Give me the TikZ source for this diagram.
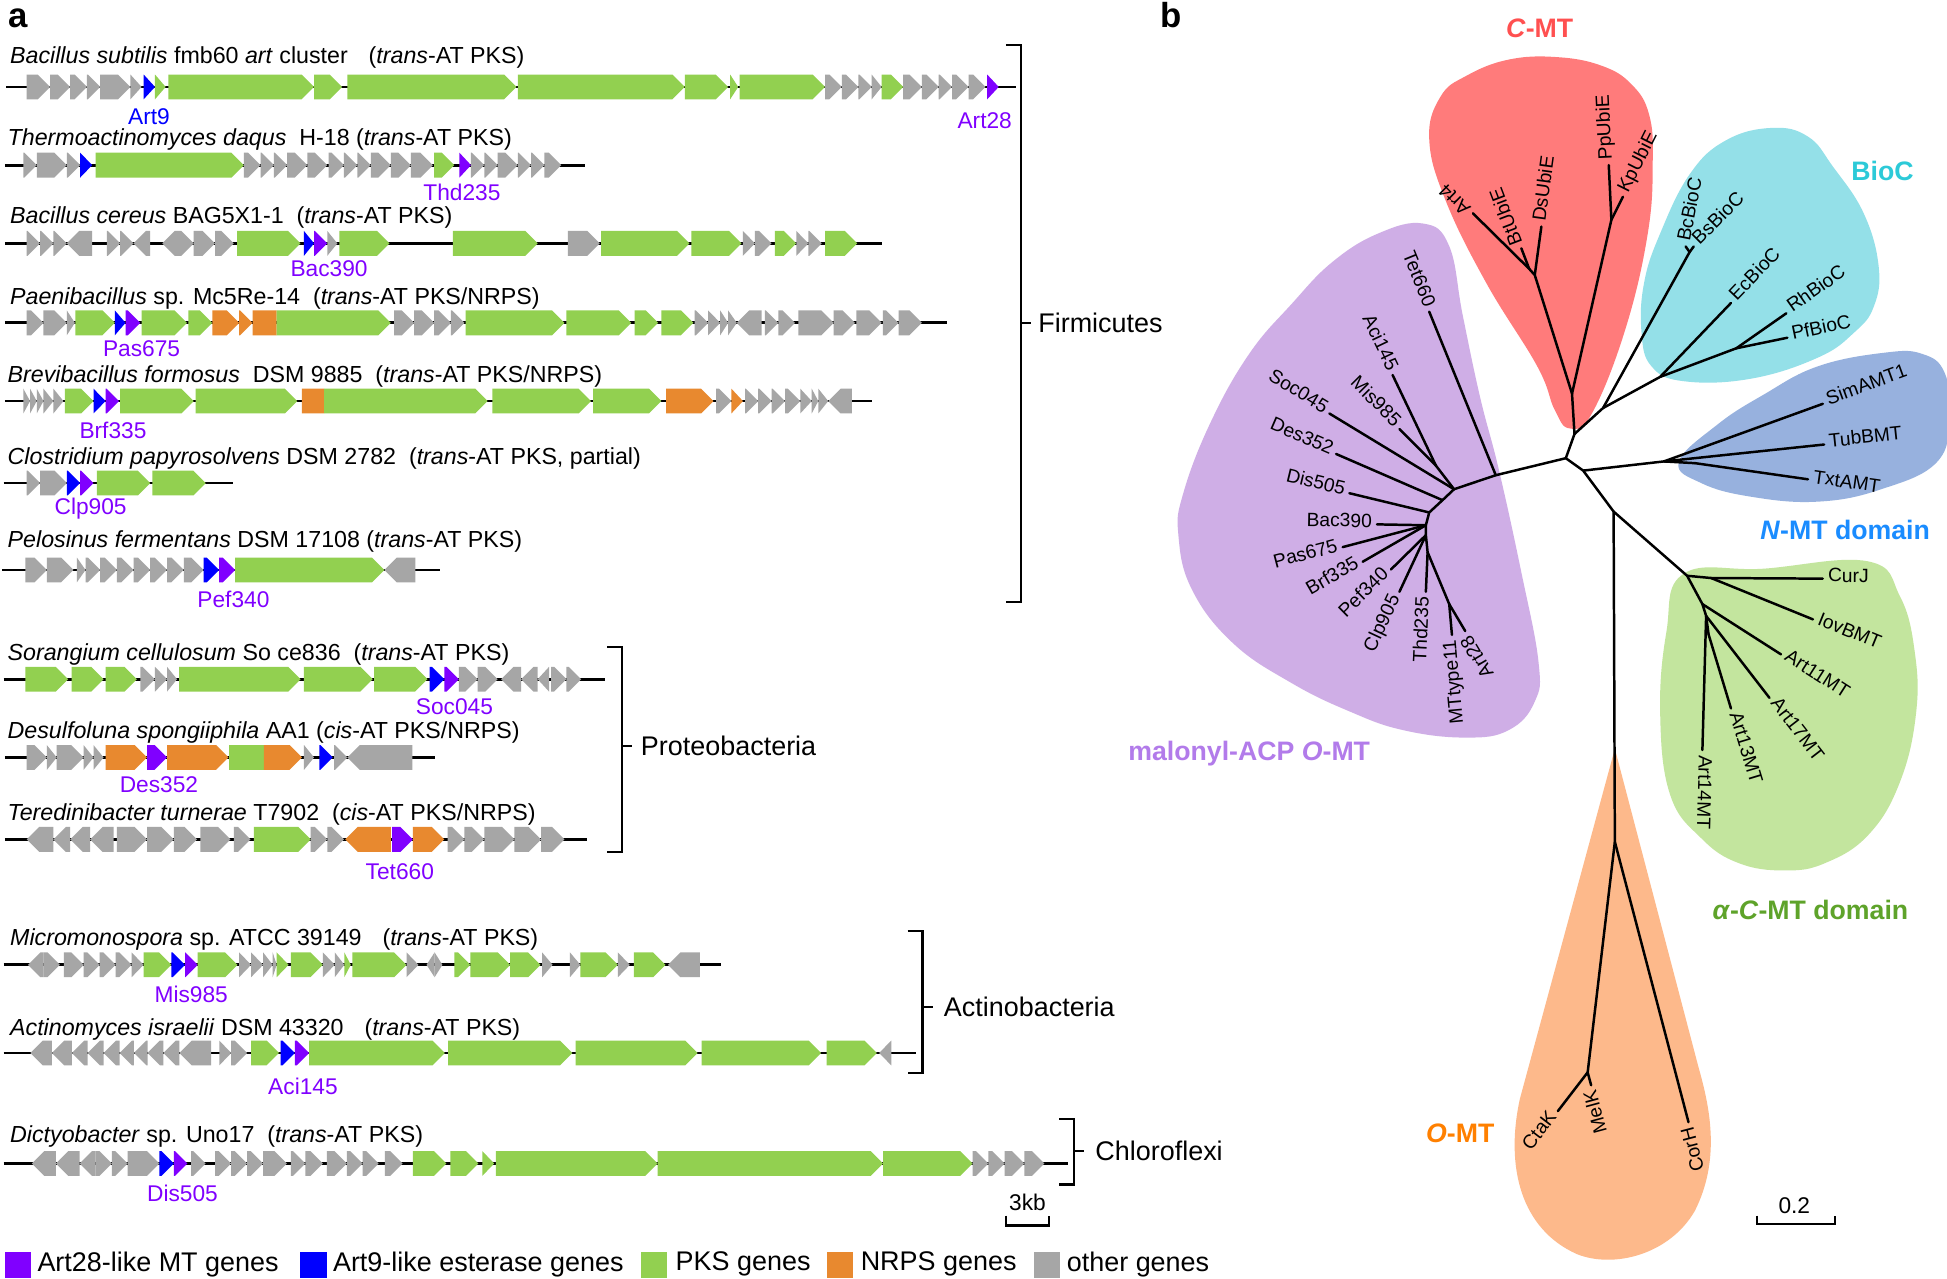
\documentclass[tikz,border=0pt]{standalone}
\usepackage{fontspec}
\setmainfont{Liberation Sans}
\usetikzlibrary{calc}
\definecolor{gGr}{HTML}{A6A6A6}
\definecolor{gPk}{HTML}{92D050}
\definecolor{gNr}{HTML}{E8892F}
\definecolor{gMt}{HTML}{8000FF}
\definecolor{gEs}{HTML}{0000FF}
\definecolor{fillC}{HTML}{FF7B7B}\definecolor{labC}{HTML}{FF5050}
\definecolor{fillB}{HTML}{94E0E8}\definecolor{labB}{HTML}{2CCAD8}
\definecolor{fillN}{HTML}{97B1DE}\definecolor{labN}{HTML}{1A8CFF}
\definecolor{fillA}{HTML}{C3E59E}\definecolor{labA}{HTML}{5EA32A}
\definecolor{fillO}{HTML}{FDB98B}\definecolor{labO}{HTML}{FF8000}
\definecolor{fillM}{HTML}{CFAEE6}\definecolor{labM}{HTML}{B27BEA}
\newcommand\genH{10}
\newcommand\genHd{10}
\newcommand\gene[5]{%
  \pgfmathsetmacro\gA{ifthenelse(#3==-1,#2,#1)}%
  \pgfmathsetmacro\gB{ifthenelse(#3==-1,#1,#2)}%
  \pgfmathsetmacro\gK{\gB-(#3)*min(\genHd,#2-#1)}%
  \fill[fill=#4] (\gA,#5-\genH) -- (\gK,#5-\genH) -- (\gB,#5) -- (\gK,#5+\genH) -- (\gA,#5+\genH) -- cycle;}
\newcommand\generow[4]{%
  \draw[gline] (#2,#1) -- (#3,#1);
  \foreach \ga/\gb/\gd/\gc in {#4} {\gene{\ga}{\gb}{\gd}{\gc}{#1}}}
\newcommand\lfw[3]{\draw[br] (#1) -- (#2);
  \path let \p1=($(#2)-(#1)$), \n1={atan2(\y1,\x1)} in node[tl, anchor=mid west, rotate=\n1] (L#2) at (#2) {#3};}
\newcommand\lfe[3]{\draw[br] (#1) -- (#2);
  \path let \p1=($(#2)-(#1)$), \n1={atan2(\y1,\x1)+180} in node[tl, anchor=mid east, rotate=\n1] (L#2) at (#2) {#3};}
\newcommand\lfm[4]{\draw[br] (#1) -- (#2);
  \node[tl, anchor=mid west, rotate=#4] (L#2) at (#2) {#3};}
\begin{document}
\begin{tikzpicture}[x=1pt,y=-1pt,
  gline/.style={line width=2.2pt},
  br/.style={line width=2pt, line cap=round, line join=round},
  tl/.style={font=\fontsize{15.5}{17}\selectfont, inner xsep=4pt, inner ysep=0pt},
  ttl/.style={font=\fontsize{18.7}{21}\selectfont, inner sep=0pt, anchor=west},
  glab/.style={font=\fontsize{18.3}{21}\selectfont, inner sep=0pt},
  phy/.style={font=\fontsize{21.7}{24}\selectfont, inner sep=0pt, anchor=west},
  brk/.style={line width=1.8pt},
  clab/.style={font=\bfseries\fontsize{21.5}{24}\selectfont, inner sep=0pt},
  leg/.style={font=\fontsize{21.7}{24}\selectfont, inner sep=0pt, anchor=west},
  panel/.style={font=\bfseries\fontsize{28}{30}\selectfont, inner sep=0pt, anchor=base west}]
\useasboundingbox (0,0) rectangle (1568,1030);
\fill[white] (0,0) rectangle (1568,1030);
\node[panel] (pa) at (7,22) {a};
\node[panel] (pb) at (934,22) {b};

% ---------- panel a ----------
\node[ttl] (t1) at (8,46) {\textit{Bacillus subtilis} fmb60 \textit{art} cluster\hspace{0.9em}(\textit{trans}-AT PKS)};
\generow{70}{5}{818}{21.5/40.4/1/gGr, 40.4/56.5/1/gGr, 56.5/70/1/gGr, 70/80.7/1/gGr, 80.7/105/1/gGr, 105/114/1/gGr, 115.7/124.8/1/gEs, 124.8/133.4/1/gPk, 135.6/252.9/1/gPk, 252.9/275.5/1/gPk, 279.8/415.9/1/gPk, 417/551.5/1/gPk, 551.5/586.4/1/gPk, 588/594.5/1/gPk, 595.6/664.4/1/gPk, 664.4/677.9/1/gGr, 677.9/691.3/1/gGr, 691.3/702/1/gGr, 702/710/1/gGr, 710/727.4/1/gPk, 727.4/742.4/1/gGr, 742.4/756/1/gGr, 756/766.7/1/gGr, 766.7/780/1/gGr, 780/793.6/1/gGr, 795/804.3/1/gMt}
\node[glab, gEs] (g1a) at (120,94) {Art9};
\node[glab, gMt] (g1b) at (793,97) {Art28};

\node[ttl] (t2) at (6,112) {\textit{Thermoactinomyces daqus}\ \ H-18 (\textit{trans}-AT PKS)};
\generow{133}{4}{471}{18.8/29.6/1/gGr, 29.6/53.8/1/gGr, 53.8/64.6/1/gGr, 64.6/74.2/1/gEs, 77/196.4/1/gPk, 196.4/209.8/1/gGr, 209.8/220.6/1/gGr, 220.6/231.3/1/gGr, 231.3/247.5/1/gGr, 247.5/263.6/1/gGr, 264.7/277/1/gGr, 277/287.8/1/gGr, 287.8/298.6/1/gGr, 298.6/314.7/1/gGr, 314.7/330.9/1/gGr, 330.9/348.6/1/gGr, 349.7/365.8/1/gPk, 370/379.3/1/gMt, 379.3/390/1/gGr, 390/400.8/1/gGr, 400.8/417/1/gGr, 417/427.7/1/gGr, 427.7/438.5/1/gGr, 438.5/452/1/gGr}
\node[glab, gMt] (g2) at (372,155) {Thd235};

\node[ttl] (t3) at (8,175) {\textit{Bacillus cereus} BAG5X1-1\ \ (\textit{trans}-AT PKS)};
\generow{196}{4}{710}{21.5/32.3/1/gGr, 32.3/43/1/gGr, 43/53.8/1/gGr, 53.8/74.2/-1/gGr, 86/96.8/1/gGr, 96.8/107.6/1/gGr, 107.6/121/-1/gGr, 130.7/142.6/-1/gGr, 142.6/156/1/gGr, 156/173.2/1/gGr, 173.2/188.3/1/gGr, 191/242/1/gPk, 244.8/252.9/1/gEs, 252.9/263.6/1/gMt, 263.6/271.7/1/gGr, 273.3/313.7/1/gPk, 364.8/433/1/gPk, 457.3/483/1/gGr, 484.2/555.2/1/gPk, 556.8/597.2/1/gPk, 598.3/608/1/gGr, 608/621.4/1/gGr, 624/641.3/1/gPk, 641.3/651/1/gGr, 651/661.7/1/gGr, 664.4/690.3/1/gPk}
\node[glab, gMt] (g3) at (265,216) {Bac390};

\node[ttl] (t4) at (8,240) {\textit{Paenibacillus} sp. Mc5Re-14\ \ (\textit{trans}-AT PKS/NRPS)};
\generow{260}{4}{763}{21.5/35/1/gGr, 35/53.8/1/gGr, 53.8/60.3/1/gGr, 60.8/92.5/1/gPk, 92.5/101.1/1/gEs, 101.1/113/1/gMt, 114/150.6/1/gPk, 151.7/171/1/gPk, 171/192.6/1/gNr, 192.6/203.4/1/gNr, 203.4/222.7/0/gNr, 222.7/314.7/1/gPk, 317.4/333.6/1/gGr, 333.6/349.7/1/gGr, 349.7/363.2/1/gGr, 363.2/374/1/gGr, 375/454.6/1/gPk, 456.2/508.4/1/gPk, 511/530/1/gPk, 532.6/558.4/1/gPk, 559.5/570.3/1/gGr, 570.3/580/1/gGr, 580/586.4/1/gGr, 586.4/593.4/1/gGr, 593.4/613.3/-1/gGr, 616/626.8/1/gGr, 626.8/640.2/1/gGr, 643/671.4/1/gGr, 671.4/688.6/1/gGr, 689.7/710/1/gGr, 711/723.6/1/gGr, 723.6/742.4/1/gGr}
\node[glab, gMt] (g4) at (114,281) {Pas675};

\node[ttl] (t5) at (6,303) {\textit{Brevibacillus formosus}\ \ DSM 9885\ \ (\textit{trans}-AT PKS/NRPS)};
\generow{323}{4}{702}{18.8/24.2/1/gGr, 24.2/29.6/1/gGr, 29.6/35/1/gGr, 35/43/1/gGr, 43/51.1/1/gGr, 52.2/75.3/1/gPk, 75.3/85/1/gEs, 85/95.8/1/gMt, 96.8/156/1/gPk, 157.6/239.4/1/gPk, 243.2/261/0/gNr, 261/392.7/1/gPk, 396.5/476/1/gPk, 477.7/532.6/1/gPk, 536.4/574.6/1/gNr, 576.7/589/1/gGr, 589/598.3/1/gNr, 600/610.6/1/gGr, 610.6/621.4/1/gGr, 621.4/632.2/1/gGr, 632.2/644.5/1/gGr, 644.5/653.7/1/gGr, 653.7/659/1/gGr, 659/667/1/gGr, 667/686/-1/gGr}
\node[glab, gMt] (g5) at (91,347) {Brf335};

\node[ttl] (t6) at (6,369) {\textit{Clostridium papyrosolvens} DSM 2782\ \ (\textit{trans}-AT PKS, partial)};
\generow{389}{3}{188}{21.5/32.3/1/gGr, 32.3/53.8/1/gGr, 53.8/64.6/1/gEs, 64.6/75.3/1/gMt, 78/121/1/gPk, 122.7/165.7/1/gPk}
\node[glab, gMt] (g6) at (73,410) {Clp905};

\node[ttl] (t7) at (6,436) {\textit{Pelosinus fermentans} DSM 17108 (\textit{trans}-AT PKS)};
\generow{459}{2}{354}{20.4/37.7/1/gGr, 37.7/59.2/1/gGr, 61.9/68.9/1/gGr, 68.9/80.7/1/gGr, 80.7/94.2/1/gGr, 94.2/107.6/1/gGr, 107.6/121/1/gGr, 121/134.5/1/gGr, 134.5/148/1/gGr, 148/164/1/gGr, 164/176.5/1/gEs, 176.5/189.4/1/gMt, 189.4/309.5/1/gPk, 309.5/334.6/-1/gGr}
\node[glab, gMt] (g7) at (188,483) {Pef340};

\node[ttl] (t8) at (6,527) {\textit{Sorangium cellulosum} So ce836\ \ (\textit{trans}-AT PKS)};
\generow{547}{3}{487}{20.4/54.9/1/gPk, 57.6/83.4/1/gPk, 85/110.3/1/gPk, 113/124.8/1/gGr, 124.8/134.5/1/gGr, 134.5/142.6/1/gGr, 144.2/242.1/1/gPk, 244.8/300.2/1/gPk, 301.3/344.3/1/gPk, 346/357.8/1/gEs, 357.8/369.6/1/gMt, 369.6/384.7/1/gGr, 384.7/400.8/1/gGr, 403.5/419.6/-1/gGr, 419.6/433/-1/gGr, 433/442.2/-1/gGr, 443.9/456.2/1/gGr, 456.2/468/1/gGr}
\node[glab, gMt] (g8) at (366,569) {Soc045};

\node[ttl] (t9) at (6,590) {\textit{Desulfoluna spongiiphila} AA1 (\textit{cis}-AT PKS/NRPS)};
\generow{610}{4}{350}{21.5/37.7/1/gGr, 37.7/45.7/1/gGr, 45.7/67.3/1/gGr, 67.3/75.3/1/gGr, 75.3/83.4/1/gGr, 85/118.4/1/gNr, 118.4/134.5/1/gMt, 134.5/184/1/gNr, 184.5/212.5/0/gPk, 212.5/243.2/1/gNr, 244.8/252.9/1/gGr, 257.2/268/1/gEs, 269/279.8/1/gGr, 279.8/332/-1/gGr}
\node[glab, gMt] (g9) at (128,632) {Des352};

\node[ttl] (t10) at (6,656) {\textit{Teredinibacter turnerae} T7902\ \ (\textit{cis}-AT PKS/NRPS)};
\generow{676}{4}{473}{21.5/43/-1/gGr, 43/56.5/-1/gGr, 56.5/72.6/-1/gGr, 72.6/91.5/-1/gGr, 94.2/118.4/1/gGr, 118.4/140/1/gGr, 140/158.7/1/gGr, 161.4/185.6/1/gGr, 188.3/201.8/1/gGr, 204.4/250.2/1/gPk, 250.2/263.6/1/gGr, 263.6/277/1/gGr, 278/314.7/-1/gNr, 315.8/332.5/1/gMt, 332.5/357.8/1/gNr, 360.5/374/1/gGr, 374/390/1/gGr, 390/414.3/1/gGr, 414.3/435.8/1/gGr, 435.8/454.6/1/gGr}
\node[glab, gMt] (g10) at (322,702) {Tet660};

\node[ttl] (t11) at (8,757) {\textit{Micromonospora} sp. ATCC 39149\hspace{0.9em}(\textit{trans}-AT PKS)};
\generow{777}{3}{581}{22.5/35/-1/gGr, 35/48.2/1/gGr, 51.4/67.4/1/gGr, 67.4/80.3/1/gGr, 80.3/93.1/1/gGr, 93.1/106/1/gGr, 106/115.6/1/gGr, 115.6/138/1/gPk, 138/149/1/gEs, 149/159.2/1/gMt, 159.2/191.3/1/gPk, 192.6/202.2/1/gGr, 202.2/211.9/1/gGr, 211.9/219.6/1/gGr, 219.6/222.8/1/gGr, 222.8/232.4/1/gPk, 234.3/260/1/gPk, 260/269.6/1/gGr, 269.6/277.3/1/gGr, 277.3/282.5/1/gPk, 283.8/327.4/1/gPk, 327.4/337/1/gGr, 343.5/350/-1/gGr, 350/356.3/1/gGr, 366/378.8/1/gPk, 378.8/410.9/1/gPk, 410.9/435.3/1/gPk, 436.6/445/1/gGr, 459/467.4/1/gGr, 467.4/497.6/1/gPk, 497.6/507.2/1/gGr, 510.4/536/1/gPk, 538/563.7/-1/gGr}
\node[glab, gMt] (g11) at (154,801) {Mis985};

\node[ttl] (t12) at (8,829) {\textit{Actinomyces israelii} DSM 43320\hspace{0.9em}(\textit{trans}-AT PKS)};
\generow{848}{3}{738}{24.4/41.7/-1/gGr, 41.7/57.8/-1/gGr, 57.8/70.6/-1/gGr, 70.6/83.5/-1/gGr, 83.5/96.3/-1/gGr, 96.3/107.9/-1/gGr, 107.9/118.8/-1/gGr, 118.8/131.6/-1/gGr, 131.6/144.5/-1/gGr, 144.5/170/-1/gGr, 176.6/186.2/1/gGr, 186.2/199/1/gGr, 202.2/224.7/1/gPk, 226/237.5/1/gEs, 237.5/249/1/gMt, 249/358.2/1/gPk, 360.8/461/1/gPk, 463.5/561.8/1/gPk, 565/661.3/1/gPk, 665.8/706.2/1/gPk, 708/717.8/-1/gGr}
\node[glab, gMt] (g12) at (244,875) {Aci145};

\node[ttl] (t13) at (8,915) {\textit{Dictyobacter} sp. Uno17\ \ (\textit{trans}-AT PKS)};
\generow{937}{3}{860}{25.7/45/-1/gGr, 45/64.2/-1/gGr, 64.2/77/-1/gGr, 77/90/1/gGr, 90/102.7/1/gGr, 102.7/128.4/1/gGr, 128.4/140/1/gEs, 140/150.9/1/gMt, 154/165.6/1/gGr, 173.3/186.2/1/gGr, 186.2/199/1/gGr, 199/211.9/1/gGr, 211.9/231/1/gGr, 234.3/245.9/1/gGr, 245.9/260/1/gGr, 263.2/279.3/1/gGr, 279.3/292/1/gGr, 292/305/1/gGr, 310/324.2/1/gGr, 332.6/359.5/1/gPk, 362.7/385.2/1/gPk, 388.4/398/1/gPk, 399.3/529.6/1/gPk, 529.6/711.3/1/gPk, 711.3/783.2/1/gPk, 783.2/796/1/gGr, 796/809/1/gGr, 809/825/1/gGr, 825/841/1/gGr}
\node[glab, gMt] (g13) at (147,961) {Dis505};

% brackets
\draw[brk] (810,36) -- (822,36) -- (822,485) -- (810,485);
\draw[brk] (822,260) -- (830,260);
\node[phy] (firm) at (836,260) {Firmicutes};
\draw[brk] (489,521) -- (501,521) -- (501,686) -- (489,686);
\draw[brk] (501,601) -- (509,601);
\node[phy] (prot) at (516,601) {Proteobacteria};
\draw[brk] (731,750) -- (743,750) -- (743,864) -- (731,864);
\draw[brk] (743,811) -- (751,811);
\node[phy] (acti) at (760,811) {Actinobacteria};
\draw[brk] (853,901) -- (865,901) -- (865,954) -- (853,954);
\draw[brk] (865,927) -- (873,927);
\node[phy] (chlo) at (882,927) {Chloroflexi};
% 3kb bar
\draw[brk] (810,979) -- (810,987) -- (845,987) -- (845,979);
\node[glab] (kb) at (827.5,968) {3kb};
% legend
\fill[gMt] (4,1008) rectangle (25,1029);
\node[leg] (l1) at (30,1018) {Art28-like MT genes};
\fill[gEs] (242,1008) rectangle (263,1029);
\node[leg] (l2) at (268,1018) {Art9-like esterase genes};
\fill[gPk] (516,1008) rectangle (537,1029);
\node[leg] (l3) at (544,1018) {PKS genes};
\fill[gNr] (666,1008) rectangle (687,1029);
\node[leg] (l4) at (693,1018) {NRPS genes};
\fill[gGr] (833,1008) rectangle (854,1029);
\node[leg] (l5) at (859,1018) {other genes};

% ---------- panel b: clade shading ----------
\fill[fillM] plot[smooth cycle, tension=0.7] coordinates {(1146,180) (1167,198) (1178,254) (1192,320) (1207,378) (1225,460) (1239,533) (1236,565) (1215,588) (1180,594) (1130,588) (1087,573) (1040,550) (993,518) (960,475) (949,431) (953,397) (975,340) (1006,285) (1040,245) (1073,211) (1110,188)};
\fill[fillC] plot[smooth cycle, tension=0.7] coordinates {(1264,345) (1252,330) (1238,295) (1197,228) (1164,161) (1151,112) (1160,78) (1181,61) (1215,48) (1254,46) (1290,53) (1314,68) (1328,92) (1331,130) (1327,188) (1309,265) (1282,333)};
\fill[fillB] plot[smooth cycle, tension=0.7] coordinates {(1322,268) (1324,228) (1337,188) (1361,140) (1390,113) (1427,103) (1456,110) (1476,134) (1501,172) (1513,215) (1509,247) (1493,268) (1464,288) (1410,305) (1356,307) (1330,295)};
\fill[fillN] plot[smooth cycle, tension=0.7] coordinates {(1352,372) (1383,342) (1420,318) (1464,295) (1518,284) (1548,285) (1566,300) (1570,335) (1560,372) (1515,394) (1464,404) (1410,400) (1370,389)};
\fill[fillA] plot[smooth cycle, tension=0.7] coordinates {(1356,462) (1420,458) (1504,452) (1530,480) (1542,525) (1543,575) (1530,630) (1505,672) (1470,695) (1437,701) (1400,695) (1370,675) (1345,640) (1337,575) (1342,509)};
\fill[fillO] (1300.5,603) -- (1224,885) .. controls (1212,940) and (1225,990) .. (1270,1010) .. controls (1300,1022) and (1345,1010) .. (1365,975) .. controls (1385,935) and (1378,895) .. (1368,860) -- cycle;

% ---------- tree ----------
\coordinate (P1) at (1268,349.5);
\coordinate (P2) at (1261,369);
\coordinate (P3) at (1275,379);
\coordinate (P4) at (1299.5,412);
\coordinate (C0) at (1266,317);
\coordinate (C1) at (1236,221.5);
\coordinate (C1a) at (1231.5,216.5);
\coordinate (C2) at (1297.7,177);
\coordinate (tArt4) at (1186.2,171.8);
\coordinate (tBt) at (1225.2,200);
\coordinate (tDs) at (1241.3,182.5);
\coordinate (tPp) at (1295.6,133);
\coordinate (tKp) at (1307,158.5);
\coordinate (B0) at (1291,328.6);
\coordinate (B1) at (1337,303.5);
\coordinate (B2) at (1398.3,280.5);
\coordinate (Bb) at (1360.7,203);
\coordinate (tBc) at (1357.5,198.5);
\coordinate (tBs) at (1364,198.5);
\coordinate (tEc) at (1394,244);
\coordinate (tRh) at (1438.6,252.3);
\coordinate (tPf) at (1439.4,272);
\coordinate (N0) at (1340,371.6);
\coordinate (N1) at (1365,373);
\coordinate (tSim) at (1468,325.2);
\coordinate (tTub) at (1469,358);
\coordinate (tTxt) at (1456,386);
\coordinate (A0) at (1358.7,463.7);
\coordinate (A0b) at (1378,465.5);
\coordinate (A1) at (1371,486.5);
\coordinate (A2) at (1374,496);
\coordinate (A3) at (1376,511);
\coordinate (tCur) at (1468,466);
\coordinate (tIov) at (1460,498.8);
\coordinate (tA11) at (1434.3,527);
\coordinate (tA17) at (1425,562);
\coordinate (tA13) at (1394,570.5);
\coordinate (tA14) at (1371,604);
\coordinate (O0) at (1300.5,678);
\coordinate (O1) at (1278.6,863.6);
\coordinate (tCta) at (1254.6,894.8);
\coordinate (tMel) at (1281.4,874);
\coordinate (tCor) at (1359.8,903.7);
\coordinate (Q1) at (1204.6,382.7);
\coordinate (Q2) at (1171,394);
\coordinate (M0) at (1156.4,375);
\coordinate (Q3) at (1161.7,402.8);
\coordinate (Q4) at (1151,412.7);
\coordinate (Q5) at (1148.3,423);
\coordinate (Q5b) at (1148.3,431);
\coordinate (Q6) at (1149.7,444.7);
\coordinate (Q7) at (1167.1,486.5);
\coordinate (tTet) at (1151,251);
\coordinate (tAci) at (1121.5,302);
\coordinate (tMis) at (1127,345.5);
\coordinate (tSoc) at (1070.6,333);
\coordinate (tDes) at (1076,365.6);
\coordinate (tDis) at (1086.7,397.2);
\coordinate (tBac) at (1109,422.3);
\coordinate (tPas) at (1081.3,440.6);
\coordinate (tBrf) at (1097.4,452.4);
\coordinate (tPef) at (1120.2,458.6);
\coordinate (tClp) at (1127,476.6);
\coordinate (tThd) at (1148.3,476.6);
\coordinate (tMTt) at (1169.3,511.3);
\coordinate (tA28) at (1180,508.2);

\draw[br] (C0) -- (P1) -- (P2) -- (Q1) -- (Q2) -- (Q3) -- (Q4) -- (Q5) -- (Q5b) -- (Q6) -- (Q7);
\draw[br] (P2) -- (P3) -- (P4) -- (O0) -- (O1);
\draw[br] (P1) -- (B0) -- (B1) -- (B2);
\draw[br] (B0) -- (Bb);
\draw[br] (C0) -- (C1) -- (C1a);
\draw[br] (C0) -- (C2);
\draw[br] (P3) -- (N0) -- (N1);
\draw[br] (P4) -- (A0) -- (A0b);
\draw[br] (A0) -- (A1) -- (A2) -- (A3);
\draw[br] (Q2) -- (M0);

\lfw{C1a}{tArt4}{Art4}
\lfw{C1a}{tBt}{BtUbiE}
\lfw{C1}{tDs}{DsUbiE}
\lfw{C2}{tPp}{PpUbiE}
\lfw{C2}{tKp}{KpUbiE}
\lfm{Bb}{tBc}{BcBioC}{79}
\lfm{Bb}{tBs}{BsBioC}{45}
\lfw{B1}{tEc}{EcBioC}
\lfw{B2}{tRh}{RhBioC}
\lfw{B2}{tPf}{PfBioC}
\lfw{N0}{tSim}{SimAMT1}
\lfw{N0}{tTub}{TubBMT}
\lfw{N1}{tTxt}{TxtAMT}
\lfw{A0b}{tCur}{CurJ}
\lfw{A0b}{tIov}{IovBMT}
\lfw{A1}{tA11}{Art11MT}
\lfw{A2}{tA17}{Art17MT}
\lfw{A3}{tA13}{Art13MT}
\lfw{A2}{tA14}{Art14MT}
\lfe{O1}{tCta}{CtaK}
\lfe{O1}{tMel}{MelK}
\lfe{O0}{tCor}{CorH}
\lfe{Q1}{tTet}{Tet660}
\lfe{M0}{tAci}{Aci145}
\lfe{M0}{tMis}{Mis985}
\lfe{Q2}{tSoc}{Soc045}
\lfe{Q3}{tDes}{Des352}
\lfe{Q4}{tDis}{Dis505}
\lfe{Q5}{tBac}{Bac390}
\lfe{Q5}{tPas}{Pas675}
\lfe{Q5}{tBrf}{Brf335}
\lfe{Q5b}{tPef}{Pef340}
\lfe{Q5b}{tClp}{Clp905}
\lfe{Q6}{tThd}{Thd235}
\lfe{Q7}{tMTt}{MTtype11}
\lfe{Q7}{tA28}{Art28}

% clade labels
\node[clab, labC] (cC) at (1240,23) {\textit{C}-MT};
\node[clab, labB] (cB) at (1516,138) {BioC};
\node[clab, labN] (cN) at (1486,427) {\textit{N}-MT domain};
\node[clab, labA] (cA) at (1458,733) {\textit{α}-\textit{C}-MT domain};
\node[clab, labO] (cO) at (1176,913) {\textit{O}-MT};
\node[clab, labM] (cM) at (1006,607) {malonyl-ACP \textit{O}-MT};
% scale bar
\draw[brk] (1415,979) -- (1415,985.5) -- (1478,985.5) -- (1478,979);
\node[glab] (sc) at (1445,971) {0.2};
\end{tikzpicture}
\end{document}
